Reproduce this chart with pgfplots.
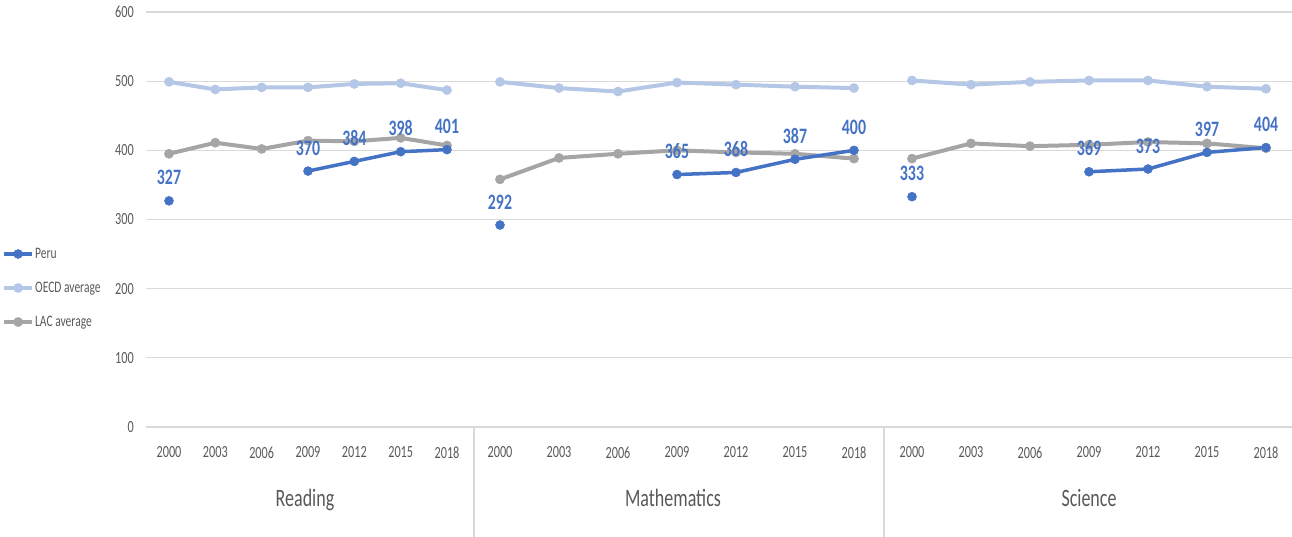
\documentclass[border=0pt]{standalone}
\usepackage{pgfplots}
\pgfplotsset{compat=1.18}
\usepackage{pgfplotstable}
\usepackage{fontspec}
\setmainfont{Carlito}[FakeStretch=0.72]

\definecolor{PeruColor}{HTML}{4472C4}
\definecolor{OECDColor}{HTML}{B4C7E7}
\definecolor{LACColor}{HTML}{A5A5A5}
\definecolor{GridColor}{HTML}{D9D9D9}
\definecolor{TickColor}{HTML}{595959}

% pos = horizontal position of each year within its subject panel
\pgfplotstableread{
pos   peru oecd lac
169   327  499  395
215.3 nan  488  411
261.7 nan  491  402
308   370  491  414
354.3 384  496  413
400.7 398  497  418
447   401  487  407
474   nan  nan  nan
500   292  499  358
559   nan  490  389
618   nan  485  395
677   365  498  400
736   368  495  397
795   387  492  395
854   400  490  388
884   nan  nan  nan
912   333  501  388
971   nan  495  410
1030  nan  499  406
1089  369  501  408
1148  373  501  412
1207  397  492  410
1266  404  489  403
}\pisa

\begin{document}
\begin{tikzpicture}
\begin{axis}[
    scale only axis,
    width=1146pt, height=415pt,
    xmin=146, xmax=1292, ymin=0, ymax=600,
    axis line style={draw=none},
    clip=false,
    ytick={0,100,...,600},
    ymajorgrids,
    grid style={GridColor, line width=1.3pt},
    xtick={169,215.3,261.7,308,354.3,400.7,447,500,559,618,677,736,795,854,912,971,1030,1089,1148,1207,1266},
    xticklabels={2000,2003,2006,2009,2012,2015,2018,2000,2003,2006,2009,2012,2015,2018,2000,2003,2006,2009,2012,2015,2018},
    major tick length=0pt,
    /pgf/number format/assume math mode=true,
    tick label style={font=\fontsize{17}{17}\selectfont, text=TickColor, inner sep=0pt},
    xticklabel style={anchor=north, yshift=-19.6pt},
    yticklabel style={anchor=east, xshift=-12pt},
    unbounded coords=jump,
    reverse legend,
    legend cell align=left,
    legend style={at={(axis description cs:-0.1257,0.4366)}, anchor=north west,
        draw=none, fill=none, inner sep=0pt, row sep=18pt,
        font=\fontsize{16}{16}\selectfont, text=TickColor,
        nodes={inner xsep=1pt, inner ysep=1pt, text height=11pt, text depth=3pt}},
    legend image code/.code={\draw[mark repeat=2,mark phase=2] plot coordinates {(0pt,0pt) (14pt,0pt) (28pt,0pt)};},
]
\addplot[LACColor, line width=4pt, mark=*, mark size=4.6pt, mark options={line width=0.5pt}]
    table[x=pos, y=lac] {\pisa};
\addplot[OECDColor, line width=4pt, mark=*, mark size=4.6pt, mark options={line width=0.5pt}]
    table[x=pos, y=oecd] {\pisa};
\addplot[PeruColor, line width=3.5pt, mark=*, mark size=4.5pt, mark options={line width=0.5pt}]
    table[x=pos, y=peru] {\pisa};
\legend{LAC average, OECD average, Peru}

% data labels for Peru
\addplot[draw=none, mark=none, forget plot, unbounded coords=discard,
    nodes near coords,
    every node near coord/.append style={anchor=base, yshift=16pt, inner sep=0pt,
        font=\bfseries\fontsize{22}{22}\selectfont, text=PeruColor}]
    table[x=pos, y=peru] {\pisa};

% panel separators and subject names
\draw[GridColor, line width=1.3pt] (axis cs:474,0) -- ([yshift=-110pt]axis cs:474,0);
\draw[GridColor, line width=1.3pt] (axis cs:884,0) -- ([yshift=-110pt]axis cs:884,0);
\node[anchor=base, yshift=-80pt, font=\fontsize{25}{25}\selectfont, text=TickColor] at (axis cs:305,0) {Reading};
\node[anchor=base, yshift=-80pt, font=\fontsize{25}{25}\selectfont, text=TickColor] at (axis cs:673,0) {Mathematics};
\node[anchor=base, yshift=-80pt, font=\fontsize{25}{25}\selectfont, text=TickColor] at (axis cs:1089,0) {Science};
\end{axis}
\pgfresetboundingbox
\path ([shift={(-146pt,-110pt)}]current axis.south west) rectangle ([shift={(1146pt,427pt)}]current axis.south west);
\end{tikzpicture}
\end{document}
